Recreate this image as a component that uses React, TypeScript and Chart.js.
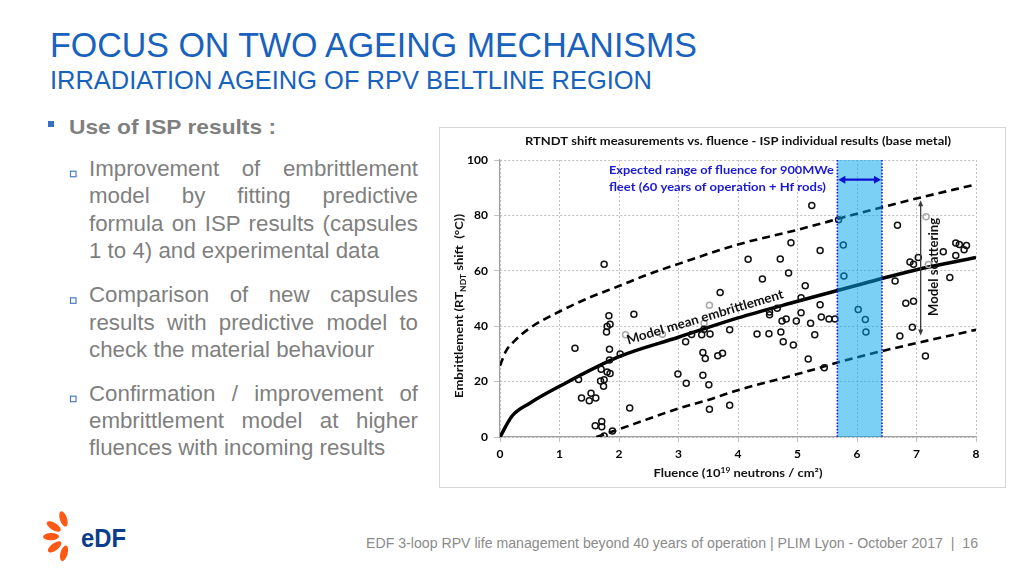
import React, { useEffect, useRef } from "react";
import { Chart, registerables } from "chart.js";

Chart.register(...registerables);

// ---------- data ----------
const measuredFluence = [
  1.26, 1.32, 1.37, 1.5, 1.53, 1.61, 1.6, 1.71, 1.71, 1.75,
  1.89, 1.7, 1.69, 1.75, 1.74, 1.8, 1.85, 1.84, 1.84, 1.79,
  1.8, 1.85, 1.83, 1.75, 2.02, 2.25, 2.18, 2.99, 3.13, 3.12,
  3.22, 3.39, 3.53, 3.43, 3.41, 3.45, 3.66, 3.74, 3.41, 3.51,
  3.52, 3.86, 3.86, 3.7, 4.17, 4.71, 4.89, 4.85, 4.41, 5.13,
  5.06, 4.66, 4.53, 4.53, 4.74, 4.81, 4.98, 5.06, 5.22, 4.32,
  4.52, 4.72, 4.76, 4.93, 5.18, 5.29, 5.38, 5.4, 5.53, 5.63,
  5.45, 5.24, 5.38, 5.69, 5.77, 5.78, 6.02, 6.14, 6.15, 6.68,
  6.64, 6.89, 6.95, 7.03, 6.82, 6.95, 6.93, 6.72, 7.15, 7.66,
  7.72, 7.84, 7.8, 7.45, 7.66, 7.56,
];
const measuredShift = [
  32.0, 20.8, 14.1, 13.1, 15.8, 14.1, 4.1, 5.6, 3.7, 0.4,
  2.2, 24.5, 20.2, 20.7, 18.3, 23.5, 22.9, 27.8, 31.7, 37.9,
  39.9, 40.7, 43.8, 62.4, 30.0, 44.3, 10.5, 22.7, 19.4, 34.4,
  37.0, 36.9, 37.2, 38.9, 30.5, 28.3, 29.3, 30.2, 22.3, 18.9,
  10.0, 11.5, 38.7, 52.2, 64.2, 64.3, 70.1, 59.2, 57.0, 54.6,
  50.3, 46.5, 45.1, 44.1, 41.9, 42.6, 41.9, 44.9, 41.1, 37.2,
  37.3, 37.9, 34.4, 33.2, 28.2, 36.9, 47.7, 43.3, 42.6, 42.6,
  25.0, 83.6, 67.3, 78.4, 69.3, 58.1, 46.0, 42.4, 37.9, 76.4,
  56.3, 63.2, 62.4, 64.8, 48.3, 49.0, 39.6, 36.5, 29.2, 70.0,
  69.5, 69.1, 67.6, 66.9, 65.5, 57.6,
];
const greyFluence = [2.11, 2.73, 3.43, 3.52, 7.16, 7.2];
const greyShift = [36.9, 37.1, 41.1, 47.6, 79.5, 62.3];

const meanFluence = [0, 0.2, 0.5, 1, 2, 3, 4, 5, 6, 7, 8];
const meanShift = [0, 7.5, 12.2, 18.3, 29, 36, 43, 49, 54.8, 60.4, 64.8];
const upperFluence = [0, 0.1, 0.25, 0.5, 1, 1.5, 2, 2.5, 3, 4, 5, 6, 7, 8];
const upperShift = [25.7, 31, 34.8, 39.3, 45.3, 50.3, 54.5, 58.8, 62.5, 69.5, 74.8, 80.6, 86.1, 91.2];
const lowerFluence = [1.62, 2, 2.5, 3, 3.5, 4, 5, 6, 7, 8];
const lowerShift = [0, 2.8, 6.6, 10.3, 13.4, 16.9, 22.7, 28.8, 33.9, 38.7];

const xTickValues = [0, 1, 2, 3, 4, 5, 6, 7, 8];
const yTickValues = [0, 20, 40, 60, 80, 100];

const fleetRange = [5.67, 6.42];
const fleetArrowLevel = 92.9;
const scatterArrowFluence = 7.07;
const scatterArrowRange = [36.6, 85.5];

const chartTitle = "RTNDT shift measurements vs. fluence - ISP individual results (base metal)";
const fleetNote = ["Expected range of fluence for 900MWe", "fleet (60 years of operation + Hf rods)"];
const meanLabel = "Model mean embrittlement";
const scatterLabel = "Model scattering";

const paragraphs = [
  ["Improvement of embrittlement", "model by fitting predictive", "formula on ISP results (capsules", "1 to 4) and experimental data"],
  ["Comparison of new capsules", "results with predictive model to", "check the material behaviour"],
  ["Confirmation / improvement of", "embrittlement model at higher", "fluences with incoming results"],
];
const paraBaselines = [
  [176.7, 204.3, 232.3, 259],
  [303.3, 330.7, 358.3],
  [401.7, 429, 456],
];

const CF = "Lato, 'Open Sans', sans-serif";

type Seg = { t: string; size: number; dy: number };

function drawRich(ctx: any, segs: Seg[], cx: number, cy: number, target: number, angle: number, color: string) {
  ctx.save();
  ctx.translate(cx, cy);
  ctx.rotate(angle);
  ctx.fillStyle = color;
  ctx.textAlign = "left";
  ctx.textBaseline = "alphabetic";
  const widths = segs.map((s) => {
    ctx.font = `bold ${s.size}px ${CF}`;
    return ctx.measureText(s.t).width;
  });
  const W = widths.reduce((a, b) => a + b, 0);
  const sc = target > 0 ? target / W : 1;
  ctx.scale(sc, 1);
  let xx = -W / 2;
  segs.forEach((s, i) => {
    ctx.font = `bold ${s.size}px ${CF}`;
    ctx.fillText(s.t, xx, s.dy);
    xx += widths[i];
  });
  ctx.restore();
}

function arrow(ctx: any, x1: number, y1: number, x2: number, y2: number, color: string, lw: number, head: number, halfW: number) {
  const ang = Math.atan2(y2 - y1, x2 - x1);
  ctx.save();
  ctx.strokeStyle = color;
  ctx.fillStyle = color;
  ctx.lineWidth = lw;
  ctx.beginPath();
  ctx.moveTo(x1 + Math.cos(ang) * head * 0.7, y1 + Math.sin(ang) * head * 0.7);
  ctx.lineTo(x2 - Math.cos(ang) * head * 0.7, y2 - Math.sin(ang) * head * 0.7);
  ctx.stroke();
  const headAt = (px: number, py: number, a: number) => {
    ctx.beginPath();
    ctx.moveTo(px, py);
    ctx.lineTo(px - head * Math.cos(a) + halfW * Math.sin(a), py - head * Math.sin(a) - halfW * Math.cos(a));
    ctx.lineTo(px - head * Math.cos(a) - halfW * Math.sin(a), py - head * Math.sin(a) + halfW * Math.cos(a));
    ctx.closePath();
    ctx.fill();
  };
  headAt(x2, y2, ang);
  headAt(x1, y1, ang + Math.PI);
  ctx.restore();
}

const annotationPlugin = {
  id: "annotations",
  afterDatasetsDraw(chart: any) {
    const { ctx, chartArea: a, scales } = chart;
    const xs = scales.x;
    const ys = scales.y;
    const b0 = xs.getPixelForValue(fleetRange[0]);
    const b1 = xs.getPixelForValue(fleetRange[1]);
    ctx.save();
    ctx.fillStyle = "rgba(0,165,235,0.52)";
    ctx.fillRect(b0, a.top, b1 - b0, a.bottom - a.top);
    ctx.strokeStyle = "#1a1ae6";
    ctx.lineWidth = 1.6;
    ctx.setLineDash([1.6, 1.6]);
    [b0, b1].forEach((bx) => {
      ctx.beginPath();
      ctx.moveTo(bx, a.top);
      ctx.lineTo(bx, a.bottom);
      ctx.stroke();
    });
    ctx.setLineDash([]);
    ctx.restore();
    const ay = ys.getPixelForValue(fleetArrowLevel);
    arrow(ctx, b0 + 1, ay, b1 - 1, ay, "#1010d0", 2.2, 7, 4);
    const sx = xs.getPixelForValue(scatterArrowFluence);
    arrow(ctx, sx, ys.getPixelForValue(scatterArrowRange[1]), sx, ys.getPixelForValue(scatterArrowRange[0]), "#3a3a3a", 1.3, 6, 2.5);
  },
  afterDraw(chart: any) {
    const { ctx, chartArea: a, scales } = chart;
    const xs = scales.x;
    const ys = scales.y;
    const cx = (a.left + a.right) / 2;
    drawRich(ctx, [{ t: chartTitle, size: 12, dy: 4 }], cx, a.top - 19, 426, 0, "#111");
    const nx = xs.getPixelForValue(1.83);
    drawRich(ctx, [{ t: fleetNote[0], size: 11.5, dy: 4 }], nx + 112.5, ys.getPixelForValue(96.4), 225, 0, "#1a1ad6");
    drawRich(ctx, [{ t: fleetNote[1], size: 11.5, dy: 4 }], nx + 108.5, ys.getPixelForValue(90.3), 217, 0, "#1a1ad6");
    drawRich(ctx, [{ t: meanLabel, size: 13, dy: 4.5 }], xs.getPixelForValue(3.445), ys.getPixelForValue(43.4), 163, (-16.6 * Math.PI) / 180, "#111");
    drawRich(ctx, [{ t: scatterLabel, size: 13, dy: 4.5 }], xs.getPixelForValue(7.285), ys.getPixelForValue(61.4), 98, -Math.PI / 2, "#111");
    drawRich(
      ctx,
      [
        { t: "Embrittlement (RT", size: 11.5, dy: 4 },
        { t: "NDT", size: 7.5, dy: 6.5 },
        { t: " shift  (°C))", size: 11.5, dy: 4 },
      ],
      a.left - 41,
      ys.getPixelForValue(47.3),
      184,
      -Math.PI / 2,
      "#111"
    );
    drawRich(
      ctx,
      [
        { t: "Fluence (10", size: 11.5, dy: 4 },
        { t: "19", size: 7.5, dy: -0.5 },
        { t: " neutrons / cm²)", size: 11.5, dy: 4 },
      ],
      cx,
      a.bottom + 36,
      169,
      0,
      "#111"
    );
  },
};

function ChartBox() {
  const ref = useRef<HTMLCanvasElement>(null);
  useEffect(() => {
    const pts = (xs: number[], ys: number[]) => xs.map((x, i) => ({ x, y: ys[i] }));
    const tickFont = { family: CF, weight: "bold" as const, size: 12 };
    const chart = new Chart(ref.current as HTMLCanvasElement, {
      type: "scatter",
      data: {
        datasets: [
          {
            label: "measured",
            data: pts(measuredFluence, measuredShift),
            pointRadius: 3,
            pointBorderWidth: 1.5,
            borderColor: "#111",
            backgroundColor: "rgba(255,255,255,0)",
            order: 1,
          } as any,
          {
            label: "grey",
            data: pts(greyFluence, greyShift),
            pointRadius: 3,
            pointBorderWidth: 1.5,
            borderColor: "#a8a8a8",
            backgroundColor: "rgba(255,255,255,0)",
            order: 2,
          } as any,
          {
            type: "line",
            label: "mean",
            data: pts(meanFluence, meanShift),
            borderColor: "#000",
            borderWidth: 3.5,
            pointRadius: 0,
            fill: false,
            cubicInterpolationMode: "monotone",
            order: 3,
          } as any,
          {
            type: "line",
            label: "upper",
            data: pts(upperFluence, upperShift),
            borderColor: "#000",
            borderWidth: 2.6,
            borderDash: [8, 5],
            pointRadius: 0,
            fill: false,
            cubicInterpolationMode: "monotone",
            order: 4,
          } as any,
          {
            type: "line",
            label: "lower",
            data: pts(lowerFluence, lowerShift),
            borderColor: "#000",
            borderWidth: 2.6,
            borderDash: [8, 5],
            pointRadius: 0,
            fill: false,
            cubicInterpolationMode: "monotone",
            order: 5,
          } as any,
        ],
      },
      options: {
        responsive: false,
        animation: false,
        devicePixelRatio: 1,
        layout: { padding: { top: 32, right: 29, left: 0, bottom: 0 } },
        plugins: { legend: { display: false }, tooltip: { enabled: false }, title: { display: false } },
        scales: {
          x: {
            type: "linear",
            min: 0,
            max: 8,
            afterBuildTicks: (s: any) => {
              s.ticks = xTickValues.map((v) => ({ value: v }));
            },
            afterFit: (s: any) => {
              s.height = 50;
            },
            ticks: { font: tickFont, color: "#000", padding: 5, maxRotation: 0, autoSkip: false },
            grid: { color: "#c0c0c0", lineWidth: 1, drawTicks: true, tickLength: 5, tickColor: "#c0c0c0" },
            border: { display: true, color: "#a0a0a0", width: 1.2, dash: [2, 2] },
          },
          y: {
            type: "linear",
            min: 0,
            max: 100,
            afterBuildTicks: (s: any) => {
              s.ticks = yTickValues.map((v) => ({ value: v }));
            },
            afterFit: (s: any) => {
              s.width = 60;
            },
            ticks: { font: tickFont, color: "#000", padding: 6, autoSkip: false },
            grid: { color: "#c0c0c0", lineWidth: 1, drawTicks: true, tickLength: 6, tickColor: "#c0c0c0" },
            border: { display: true, color: "#a0a0a0", width: 1.2, dash: [2, 2] },
          },
        },
      } as any,
      plugins: [annotationPlugin],
    });
    return () => chart.destroy();
  }, []);
  return (
    <div
      style={{
        position: "absolute",
        left: 439,
        top: 127,
        width: 567,
        height: 361,
        border: "1px solid #d6d6d6",
        boxSizing: "border-box",
        background: "#fff",
      }}
    >
      <canvas ref={ref} width={565} height={359} style={{ position: "absolute", left: 0, top: 0, width: 565, height: 359 }} />
    </div>
  );
}

export default function App() {
  const fs = 22.3;
  return (
    <div
      style={{
        position: "absolute",
        left: 0,
        top: 0,
        width: 1024,
        height: 576,
        background: "#fff",
        overflow: "hidden",
        fontFamily: "'Liberation Sans', Arial, sans-serif",
      }}
    >
      <svg width={1024} height={576} style={{ position: "absolute", left: 0, top: 0 }}>
        <text x={50} y={57} fontSize={34.5} fill="#1862bd" textLength={647} lengthAdjust="spacingAndGlyphs" fontFamily="'Liberation Sans', Arial, sans-serif">
          FOCUS ON TWO AGEING MECHANISMS
        </text>
        <text x={50} y={88.5} fontSize={26.5} fill="#1862bd" textLength={602} lengthAdjust="spacingAndGlyphs" fontFamily="'Liberation Sans', Arial, sans-serif">
          IRRADIATION AGEING OF RPV BELTLINE REGION
        </text>
        <rect x={48} y={121} width={6} height={6} fill="#3a70c4" />
        <text x={69} y={134} fontSize={21} fontWeight="bold" fill="#7f7f7f" textLength={207} lengthAdjust="spacingAndGlyphs" fontFamily="'Liberation Sans', Arial, sans-serif">
          Use of ISP results :
        </text>
        {paraBaselines.map((b, i) => (
          <rect key={i} x={70.5} y={b[0] - 5.5} width={5.5} height={5.5} fill="none" stroke="#4a7cc9" strokeWidth={1.2} />
        ))}
        {/* logo */}
        <g fill="#fe5815">
          {[-108, -148, 178, 143, 106].map((deg, i) => {
            const r = (deg * Math.PI) / 180;
            const cx = 69 + 18 * Math.cos(r);
            const cy = 536 + 18 * Math.sin(r);
            return <ellipse key={i} cx={cx} cy={cy} rx={8} ry={3.6} transform={`rotate(${deg} ${cx} ${cy})`} />;
          })}
        </g>
        <text x={81} y={547} fontSize={26} fontWeight="bold" fill="#0c3d8a" textLength={45} lengthAdjust="spacingAndGlyphs" fontFamily="'Liberation Sans', Arial, sans-serif">
          eDF
        </text>
        <text x={366} y={548} fontSize={15} fill="#8a8a8a" textLength={612} lengthAdjust="spacingAndGlyphs" fontFamily="'Liberation Sans', Arial, sans-serif">
          {"EDF 3-loop RPV life management beyond 40 years of operation | PLIM Lyon - October 2017\u00a0\u00a0|\u00a0\u00a016"}
        </text>
      </svg>
      {paragraphs.map((lines, pi) =>
        lines.map((line, li) => {
          const last = li === lines.length - 1;
          return (
            <div
              key={`${pi}-${li}`}
              style={{
                position: "absolute",
                left: 89,
                width: 329,
                top: paraBaselines[pi][li] - 0.8465 * fs,
                fontSize: fs,
                lineHeight: `${fs}px`,
                color: "#7f7f7f",
                textAlign: last ? "left" : "justify",
                textAlignLast: last ? "left" : "justify",
              } as any}
            >
              {line}
            </div>
          );
        })
      )}
      <ChartBox />
    </div>
  );
}
